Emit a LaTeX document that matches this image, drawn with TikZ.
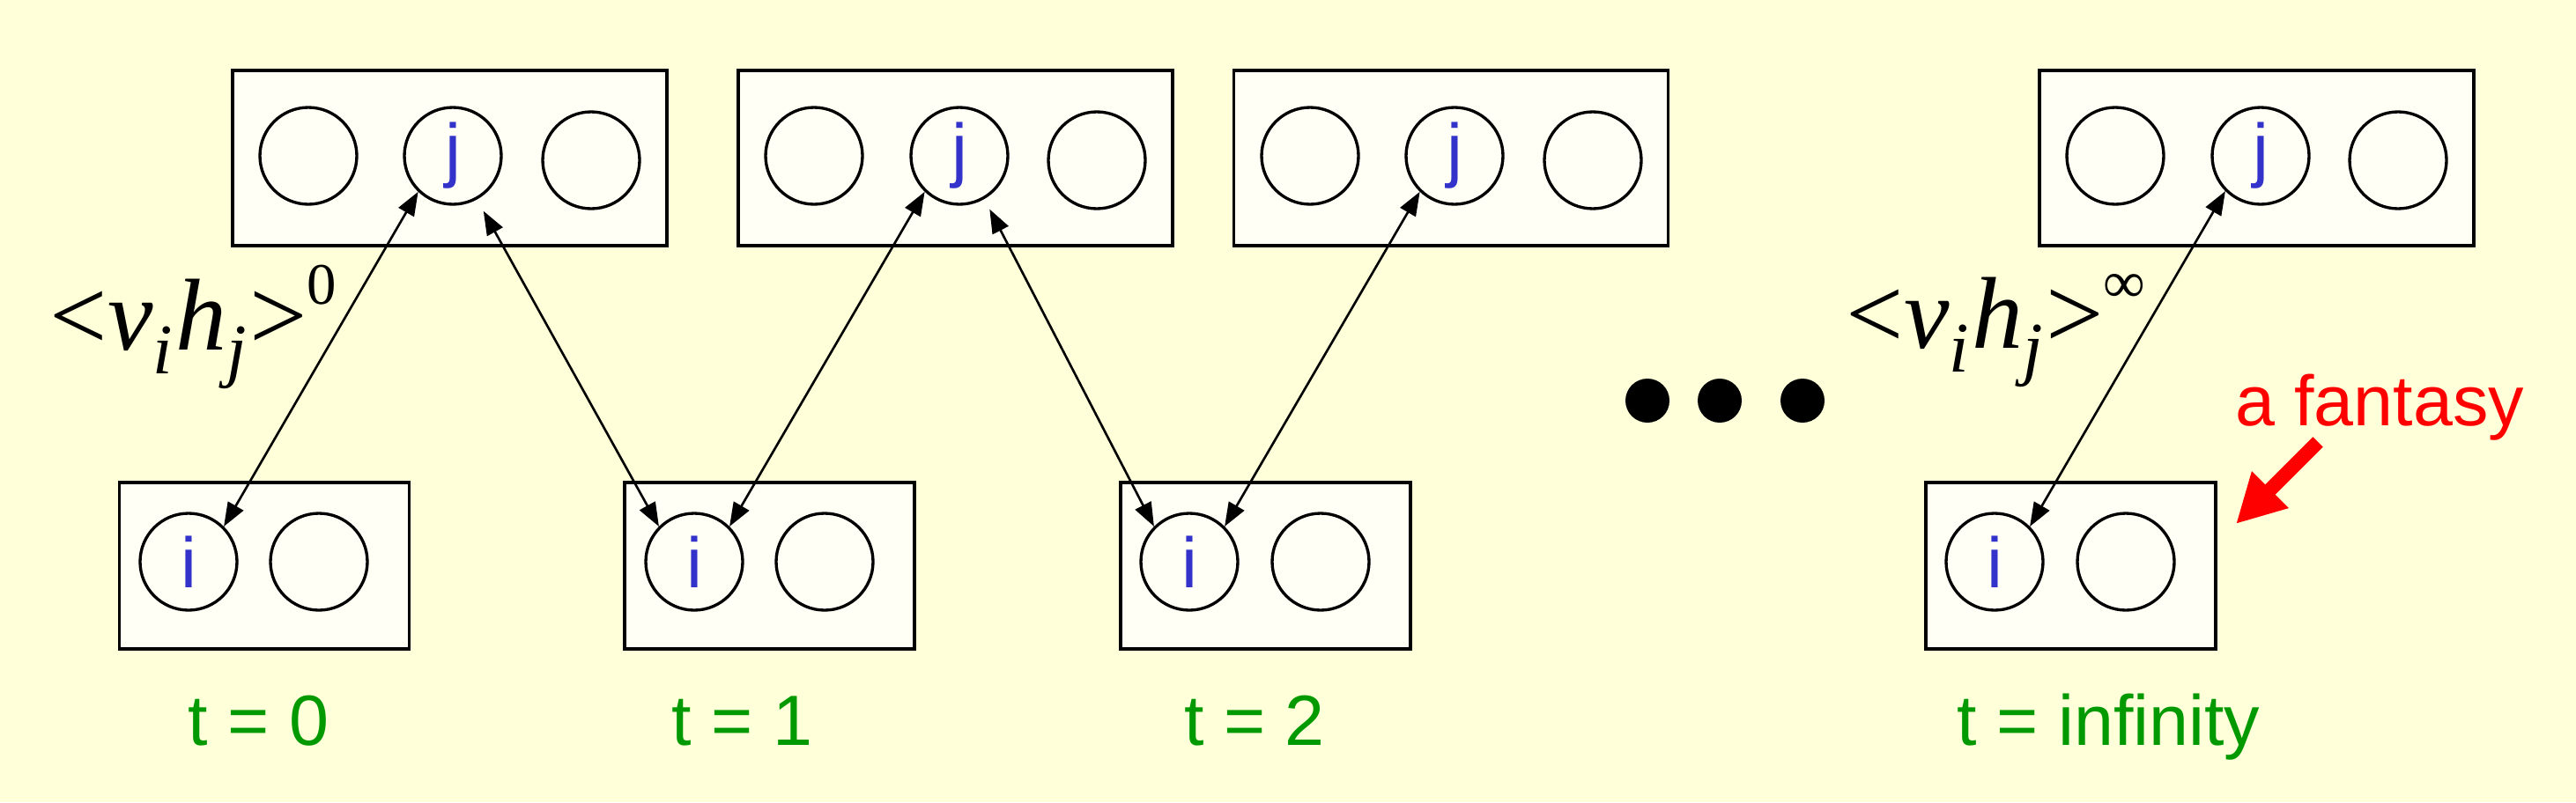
\documentclass[tikz,border=0pt]{standalone}
\usepackage{fontspec}
\setmainfont{Liberation Sans}
\newfontfamily\timesfont{Liberation Serif}
\usetikzlibrary{arrows.meta}
\definecolor{slidebg}{RGB}{255,255,217}
\definecolor{boxfill}{RGB}{255,255,246}
\definecolor{unitblue}{RGB}{51,51,204}
\definecolor{timegreen}{RGB}{0,153,0}
\newcommand{\lowidx}[1]{\raisebox{-0.24em}{\fontsize{23}{24}\selectfont\textit{#1}}\kern0.03em}
\newcommand{\highidx}[1]{\raisebox{0.44em}{\fontsize{19}{20}\selectfont #1}}

\begin{document}
\begin{tikzpicture}[>={Triangle[length=0.27cm,width=0.2cm]},
    link/.style={<->,line width=0.75pt},
    box node/.style={rectangle,draw,line width=1.1pt,fill=boxfill,inner sep=0pt},
    top box/.style={box node,minimum width=4.93cm,minimum height=1.99cm},
    bottom box/.style={box node,minimum width=3.29cm,minimum height=1.89cm},
    unit node/.style={circle,draw,line width=0.95pt,inner sep=0pt,minimum size=1.1cm,text=unitblue,font=\fontsize{23}{24}\selectfont},
    time node/.style={anchor=base,text=timegreen,font=\fontsize{23}{24}\selectfont},
    stat node/.style={anchor=base west,inner sep=0pt,font=\timesfont\fontsize{33}{36}\selectfont},
    dot node/.style={circle,fill=black,inner sep=0pt,minimum size=0.5cm}]
    \useasboundingbox (0,0) rectangle (29.24,9.11);
    \fill[slidebg] (0,0) rectangle (29.24,9.11);

    % hidden layers
    \node[top box] (h0) at (5.105,7.315) {};
    \node[unit node] (h0a) at (3.50,7.34) {};
    \node[unit node] (j0) at (5.14,7.34) {j};
    \node[unit node] (h0c) at (6.71,7.29) {};

    \node[top box] (h1) at (10.845,7.315) {};
    \node[unit node] (h1a) at (9.24,7.34) {};
    \node[unit node] (j1) at (10.89,7.34) {j};
    \node[unit node] (h1c) at (12.45,7.29) {};

    \node[top box] (h2) at (16.47,7.315) {};
    \node[unit node] (h2a) at (14.87,7.34) {};
    \node[unit node] (j2) at (16.51,7.34) {j};
    \node[unit node] (h2c) at (18.08,7.29) {};

    \node[top box] (h3) at (25.615,7.315) {};
    \node[unit node] (h3a) at (24.01,7.34) {};
    \node[unit node] (j3) at (25.66,7.34) {j};
    \node[unit node] (h3c) at (27.22,7.29) {};

    % visible layers
    \node[bottom box] (v0) at (3.00,2.685) {};
    \node[unit node] (i0) at (2.14,2.73) {i};
    \node[unit node] (v0b) at (3.62,2.73) {};

    \node[bottom box] (v1) at (8.735,2.685) {};
    \node[unit node] (i1) at (7.88,2.73) {i};
    \node[unit node] (v1b) at (9.36,2.73) {};

    \node[bottom box] (v2) at (14.365,2.685) {};
    \node[unit node] (i2) at (13.50,2.73) {i};
    \node[unit node] (v2b) at (14.99,2.73) {};

    \node[bottom box] (v3) at (23.505,2.685) {};
    \node[unit node] (i3) at (22.64,2.73) {i};
    \node[unit node] (v3b) at (24.13,2.73) {};

    \draw[link] (j0.226) -- (i0.45);
    \draw[link,shorten <=0.15cm] (j0.299) -- (i1.135);
    \draw[link] (j1.226) -- (i1.45);
    \draw[link,shorten <=0.13cm] (j1.300) -- (i2.135);
    \draw[link] (j2.226) -- (i2.45);
    \draw[link] (j3.225) -- (i3.45);

    \node[stat node] (stat0) at (0.56,5.14) {<\textit{v}\lowidx{i}\textit{h}\lowidx{j}>\highidx{0}};
    \node[stat node] (statinf) at (20.95,5.16) {<\textit{v}\lowidx{i}\textit{h}\lowidx{j}>\highidx{∞}};

    \node[dot node] (dot1) at (18.70,4.56) {};
    \node[dot node] (dot2) at (19.52,4.56) {};
    \node[dot node] (dot3) at (20.46,4.56) {};

    \node[time node] (t0) at (2.935,0.65) {t = 0};
    \node[time node] (t1) at (8.425,0.65) {t = 1};
    \node[time node] (t2) at (14.24,0.65) {t = 2};
    \node[time node] (tinf) at (23.935,0.65) {t = infinity};

    \node[anchor=base,text=red,font=\fontsize{23}{24}\selectfont] (fantasy) at (27.01,4.28) {a fantasy};
    \coordinate (fanstart) at (26.31,4.09);
    \coordinate (fantip) at (25.38,3.16);
    \draw[red,line width=0.16cm,-{Triangle[length=0.55cm,width=0.55cm]}] (fanstart) -- (fantip);
\end{tikzpicture}
\end{document}
